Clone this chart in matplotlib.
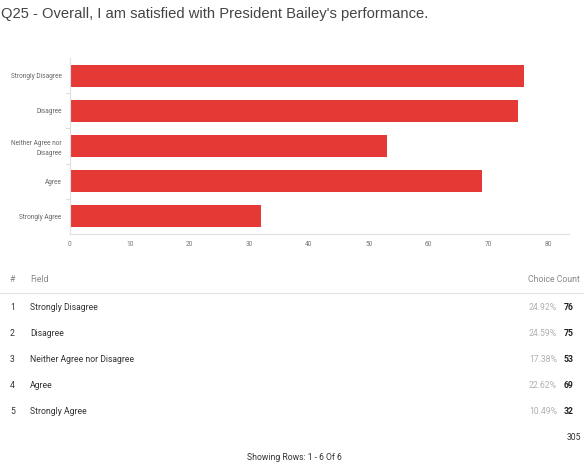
import matplotlib
matplotlib.use("Agg")
import matplotlib.pyplot as plt
from matplotlib.lines import Line2D

categories = ["Strongly Disagree", "Disagree", "Neither Agree nor\nDisagree", "Agree", "Strongly Agree"]
fields = ["Strongly Disagree", "Disagree", "Neither Agree nor Disagree", "Agree", "Strongly Agree"]
counts = [76, 75, 53, 69, 32]
percents = ["24.92%", "24.59%", "17.38%", "22.62%", "10.49%"]
total = 305
xticks = [0, 10, 20, 30, 40, 50, 60, 70, 80]
title = "Q25 - Overall, I am satisfied with President Bailey's performance."

W, H = 584, 466
fig = plt.figure(figsize=(W / 100, H / 100), dpi=100)
fig.patch.set_facecolor("white")

def fy(y):
    return 1 - y / H

def fx(x):
    return x / W

# chart axes
ax = fig.add_axes([fx(70), fy(234), fx(569) - fx(70), fy(58) - fy(234)])
ypos = list(range(len(categories)))
ax.barh(ypos, counts, height=0.625, color="#e53935", zorder=2)
ax.set_ylim(len(categories) - 0.5, -0.5)
ax.set_xlim(0, 83.5)
ax.set_xticks(xticks)
ax.set_xticklabels([str(t) for t in xticks], fontsize=4.7, color="#777777", family="Roboto")
ax.set_yticks(ypos)
ax.set_yticklabels(categories, fontsize=4.7, color="#666666", family="Roboto", linespacing=1.5)
ax.tick_params(axis="y", length=0, pad=6)
ax.tick_params(axis="x", length=0, pad=5)
for s in ["top", "right"]:
    ax.spines[s].set_visible(False)
for s in ["left", "bottom"]:
    ax.spines[s].set_color("#e0e0e0")
    ax.spines[s].set_linewidth(0.8)
# category boundary ticks on the y axis
for b in [i + 0.5 for i in range(len(categories) - 1)]:
    ax.plot([-0.6, 0], [b, b], color="#e0e0e0", lw=0.8, clip_on=False)

# title
fig.text(fx(1), fy(18), title, fontsize=10.6, family="Liberation Sans", color="#444444",
         ha="left", va="baseline")

# table
fs = 6.2
hdr_y = 280
fig.text(fx(10), fy(hdr_y), "#", fontsize=fs, family="Roboto", color="#888888", ha="left", va="center")
fig.text(fx(30), fy(hdr_y), "Field", fontsize=fs, family="Roboto", color="#888888", ha="left", va="center")
fig.text(fx(580), fy(hdr_y), "Choice Count", fontsize=fs, family="Roboto", color="#888888", ha="right", va="center")
fig.add_artist(Line2D([0, 1], [fy(293), fy(293)], color="#e3e3e3", lw=0.8, transform=fig.transFigure))

row_y = [307, 333, 359, 385, 411]
for i, (f, c, p) in enumerate(zip(fields, counts, percents)):
    y = row_y[i]
    fig.text(fx(10), fy(y), str(i + 1), fontsize=fs, family="Roboto", color="#333333", ha="left", va="center")
    fig.text(fx(30), fy(y), f, fontsize=fs, family="Roboto", color="#333333", ha="left", va="center")
    fig.text(fx(557), fy(y), p, fontsize=fs, family="Roboto", color="#b0b0b0", ha="right", va="center")
    fig.text(fx(564), fy(y), str(c), fontsize=fs, family="Roboto", color="#222222", ha="left",
             va="center", fontweight="bold")

fig.text(fx(581), fy(437), str(total), fontsize=fs, family="Roboto", color="#333333", ha="right", va="center")
fig.text(fx(294), fy(457), "Showing Rows: 1 - 6 Of 6", fontsize=fs, family="Roboto", color="#333333",
         ha="center", va="center")

fig.savefig("out.png", dpi=100, facecolor="white")
